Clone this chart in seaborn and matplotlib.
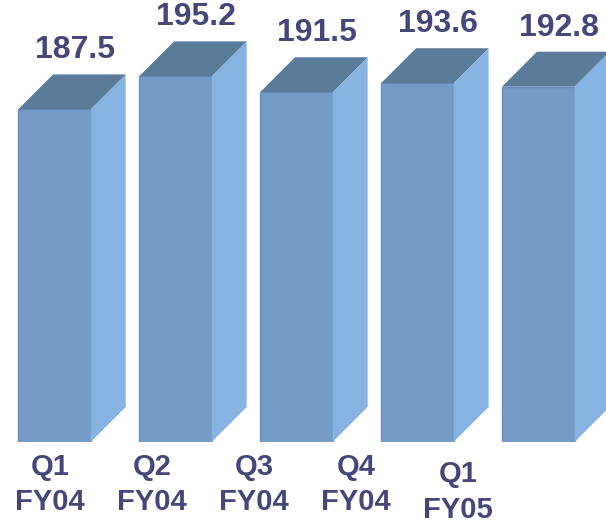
import matplotlib
matplotlib.use('Agg')
import matplotlib.pyplot as plt
import seaborn as sns
from matplotlib.patches import Polygon

# Data
quarters = ['Q1\nFY04', 'Q2\nFY04', 'Q3\nFY04', 'Q4\nFY04', 'Q1\nFY05']
values = [187.5, 195.2, 191.5, 193.6, 192.8]

# Colours
front_color = '#749cc7'
side_color = '#86b3e1'
top_color = '#5b7b9a'
edge_color = '#6a8fbd'
text_color = '#45467a'

sns.set_style('white')

W, H = 606, 525
fig = plt.figure(figsize=(W / 100, H / 100), dpi=100)
ax = fig.add_axes([0, 83 / H, 1, 442 / H])

sns.barplot(x=quarters, y=values, color=front_color, saturation=1, width=0.6,
            edgecolor=edge_color, linewidth=1, ax=ax)

xmin, xmax = -0.45, 4.56
ymin, ymax = 110, 213
ax.set_xlim(xmin, xmax)
ax.set_ylim(ymin, ymax)
ax.axis('off')

# 3D depth (35 px both ways) converted to data units
depth_px = 35
dx = depth_px * (xmax - xmin) / W
dy = depth_px * (ymax - ymin) / 442
gap = 9 * (ymax - ymin) / 442

for bar, v in zip(ax.patches, values):
    l = bar.get_x()
    r = l + bar.get_width()
    side = Polygon([(r, ymin), (r + dx, ymin + dy), (r + dx, v + dy), (r, v)],
                   closed=True, facecolor=side_color, edgecolor='none', clip_on=False)
    top = Polygon([(l, v), (l + dx, v + dy), (r + dx, v + dy), (r, v)],
                  closed=True, facecolor=top_color, edgecolor='none', clip_on=False)
    ax.add_patch(side)
    ax.add_patch(top)
    ax.text(l + bar.get_width() / 2 + 0.6 * dx, v + dy + gap, f'{v:.1f}',
            ha='center', va='bottom', fontsize=23, fontweight='bold',
            family='Liberation Sans', color=text_color, clip_on=False)

# category labels below the bars
for i, lab in enumerate(quarters):
    y = 0.077 if i < 4 else 0.063
    fig.text((50 + 102 * i) / W, y, lab, ha='center', va='center',
             fontsize=21, fontweight='bold', family='Liberation Sans',
             color=text_color, linespacing=1.35)

fig.savefig('out.png', dpi=100)
